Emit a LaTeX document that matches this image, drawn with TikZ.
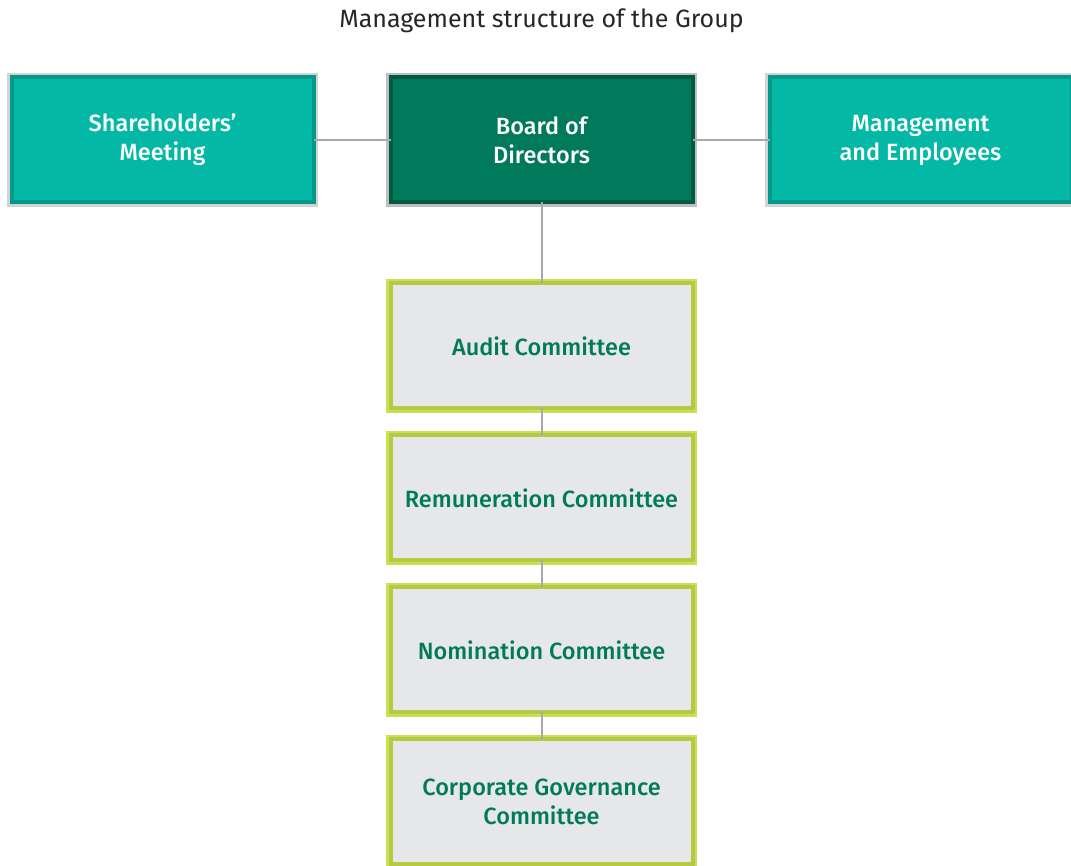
\documentclass[tikz,border=0pt]{standalone}
\usepackage{fontspec}
\setmainfont{Fira Sans}
\newfontfamily\medfont{Fira Sans Medium}
\usetikzlibrary{positioning}
\definecolor{teal1}{HTML}{04B8A6}
\definecolor{teal2}{HTML}{03998A}
\definecolor{green1}{HTML}{007A5A}
\definecolor{green2}{HTML}{005A43}
\definecolor{lime1}{HTML}{CCDE52}
\definecolor{lime2}{HTML}{B6C944}
\definecolor{greyb}{HTML}{D1D3D4}
\definecolor{greyd}{HTML}{BCBEC0}
\definecolor{paleg}{HTML}{E6E7E8}
\definecolor{link}{HTML}{A7A9AC}

\begin{document}
\begin{tikzpicture}[x=1pt, y=1pt, node distance={77pt},
  box/.style = {minimum width=302pt, minimum height=125pt, inner sep=0pt, outer sep=0pt, align=center, line width=4pt, font=\medfont\fontsize{23.5}{29}\selectfont},
  sidebox/.style = {box, fill=teal1, draw=teal2, text=white, preaction={draw=greyb, line width=9pt}},
  boardbox/.style = {box, fill=green1, draw=green2, text=white, preaction={draw=greyd, line width=9pt}},
  commbox/.style = {box, fill=paleg, draw=lime2, text=green1, preaction={draw=lime1, line width=9pt}},
  conn/.style = {draw=link, line width=2pt}]
\useasboundingbox (0,0) rectangle (1071,866);
\node[font=\fontsize{25}{28}\selectfont, text=black!85] (title) at (541.5,845) {Management structure of the Group};
\node[boardbox] (board) at (541.5,726) {Board of\\Directors};
\node[sidebox] (share) [left=of board] {Shareholders’\\Meeting};
\node[sidebox] (mgmt) [right=of board] {Management\\and Employees};
\node[commbox] (audit) [below=81pt of board] {Audit Committee};
\node[commbox] (remun) [below=27pt of audit] {Remuneration Committee};
\node[commbox] (nomin) [below=27pt of remun] {Nomination Committee};
\node[commbox] (corp) [below=27pt of nomin] {Corporate Governance\\Committee};
\draw[conn] (share) -- (board);
\draw[conn] (board) -- (mgmt);
\draw[conn] (board) -- (audit);
\draw[conn] (audit) -- (remun);
\draw[conn] (remun) -- (nomin);
\draw[conn] (nomin) -- (corp);
\end{tikzpicture}
\end{document}
